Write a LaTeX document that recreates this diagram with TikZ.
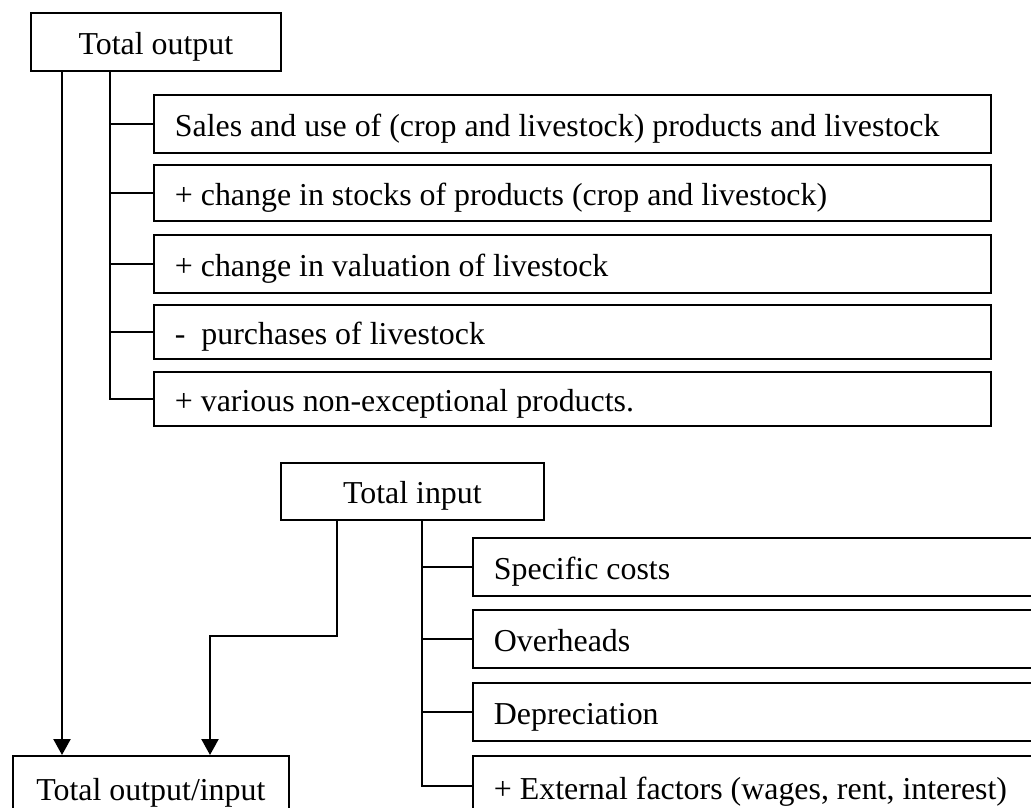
\documentclass[tikz,border=0pt]{standalone}
\usepackage{fontspec}
\setmainfont{Liberation Serif}
\usetikzlibrary{arrows.meta}
\newcommand\boxfont{\fontsize{31.9}{38}\selectfont}
\begin{document}
\begin{tikzpicture}[x=1pt,y=-1pt,
  box/.style={draw, line width=1.8pt, anchor=north west, font=\boxfont,
    inner ysep=0pt, text height=28pt, text depth=3pt},
  headbox/.style={box, inner xsep=0pt, align=center},
  itembox/.style={box, inner xsep=21pt, align=flush left,
    execute at begin node={\spaceskip=0pt\xspaceskip=0pt}},
  link/.style={line width=1.8pt},
  arr/.style={line width=2.3pt, -{Triangle[width=17pt,length=16pt]}}
]
\useasboundingbox (0,0) rectangle (1031,807);
\clip (0,0) rectangle (1031,807);
\fill[white] (0,0) rectangle (1031,807);

% top-level boxes
\node[headbox, minimum width=250pt, minimum height=58pt] (tout) at (30,12) {Total output};
\node[headbox, minimum width=263pt, minimum height=57pt] (tin) at (280,462) {Total input};
\node[headbox, minimum width=276pt, minimum height=60pt, text height=32pt] (tio) at (12,755) {Total output/input};

% output items
\node[itembox, text width=795pt, minimum height=58pt] (s1) at (153,94) {Sales and use of (crop and livestock) products and livestock};
\node[itembox, text width=795pt, minimum height=56pt] (s2) at (153,164) {+ change in stocks of products (crop and livestock)};
\node[itembox, text width=795pt, minimum height=58pt] (s3) at (153,234) {+ change in valuation of livestock};
\node[itembox, text width=795pt, minimum height=54pt] (s4) at (153,304) {-\ \ purchases of livestock};
\node[itembox, text width=795pt, minimum height=54pt] (s5) at (153,371) {+ various non-exceptional products.};

% input items (run past the right edge)
\node[itembox, text width=560pt, minimum height=58pt] (c1) at (472,537) {Specific costs};
\node[itembox, text width=560pt, minimum height=58pt] (c2) at (472,609) {Overheads};
\node[itembox, text width=560pt, minimum height=58pt] (c3) at (472,682) {Depreciation};
\node[itembox, text width=560pt, minimum height=60pt, text height=30pt] (c4) at (472,755) {+ External factors (wages, rent, interest)};

% output tree
\coordinate (ov) at ([xshift=80pt]tout.south west);
\draw[link] (ov) |- (s5.west);
\foreach \i in {1,2,3,4}{\draw[link] (ov |- s\i.west) -- (s\i.west);}

% input tree
\coordinate (iv) at ([xshift=142pt]tin.south west);
\draw[link] (iv) |- (c4.west);
\foreach \i in {1,2,3}{\draw[link] (iv |- c\i.west) -- (c\i.west);}

% arrows to total output/input
\coordinate (oa) at ([xshift=32pt]tout.south west);
\draw[arr] (oa) -- (oa |- tio.north);
\coordinate (ia) at ([xshift=57pt]tin.south west);
\coordinate (ib) at (210,636);
\draw[arr, line join=miter] (ia) -- (ia |- ib) -- (ib) -- (ib |- tio.north);
\end{tikzpicture}
\end{document}
